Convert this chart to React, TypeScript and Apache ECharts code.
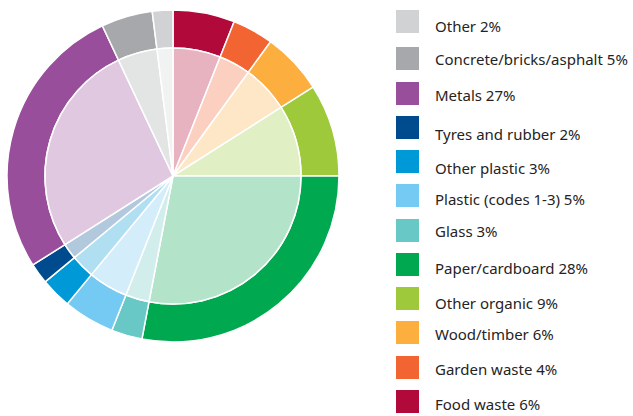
import React, { useEffect, useRef } from "react";
import * as echarts from "echarts";

const categories = [
  "Food waste",
  "Garden waste",
  "Wood/timber",
  "Other organic",
  "Paper/cardboard",
  "Glass",
  "Plastic (codes 1-3)",
  "Other plastic",
  "Tyres and rubber",
  "Metals",
  "Concrete/bricks/asphalt",
  "Other",
];
const percents = [6, 4, 6, 9, 28, 3, 5, 3, 2, 27, 5, 2];
const darkColors = [
  "#b1093a",
  "#f26532",
  "#fcae3f",
  "#9dc93b",
  "#00a94f",
  "#68c8c5",
  "#74caf2",
  "#0099d7",
  "#004a8e",
  "#984e9b",
  "#a7a8ab",
  "#d1d2d4",
];
const lightColors = [
  "#e8b3c0",
  "#fbd0c1",
  "#fee7c7",
  "#e0efc4",
  "#b3e4c9",
  "#d1eeed",
  "#d4edfa",
  "#b1dff2",
  "#b1c8dd",
  "#e1c8e1",
  "#e3e5e5",
  "#f1f2f2",
];

// legend layout (top to bottom): square tops and text centres, in pixels
const legendSquareTops = [10, 47, 82, 116, 150, 184, 219, 253, 287, 321, 356, 390];
const legendTextCentres = [26, 59, 95, 134, 168, 199, 231, 268, 303, 334, 369, 403.5];

export default function App() {
  const ref = useRef<HTMLDivElement>(null);
  useEffect(() => {
    if (!ref.current) return;
    const chart = echarts.init(ref.current, undefined, { renderer: "svg" });
    const outerData = categories.map((name, i) => ({
      name,
      value: percents[i],
      itemStyle: { color: darkColors[i] },
    }));
    const innerData = categories.map((name, i) => ({
      name,
      value: percents[i],
      itemStyle: { color: lightColors[i] },
    }));
    const order = categories.map((_, i) => i).reverse();
    const legendElements: any[] = [];
    order.forEach((ci, row) => {
      legendElements.push({
        type: "rect",
        shape: { x: 396, y: legendSquareTops[row], width: 23, height: 23 },
        style: { fill: darkColors[ci] },
        silent: true,
      });
      legendElements.push({
        type: "text",
        x: 435,
        y: legendTextCentres[row],
        style: {
          text: `${categories[ci]} ${percents[ci]}%`,
          fontFamily: "Noto Sans",
          fontSize: 15,
          fill: "#262324",
          verticalAlign: "middle",
          align: "left",
        },
        silent: true,
      });
    });
    chart.setOption({
      animation: false,
      backgroundColor: "#ffffff",
      graphic: { elements: legendElements },
      series: [
        {
          type: "pie",
          name: "outer",
          center: [173, 176],
          radius: [128, 166],
          startAngle: 90,
          clockwise: true,
          silent: true,
          label: { show: false },
          labelLine: { show: false },
          itemStyle: { borderColor: "#ffffff", borderWidth: 1.5 },
          data: outerData,
        },
        {
          type: "pie",
          name: "inner",
          center: [173, 176],
          radius: [0, 128],
          startAngle: 90,
          clockwise: true,
          silent: true,
          label: { show: false },
          labelLine: { show: false },
          itemStyle: { borderColor: "#ffffff", borderWidth: 1.5 },
          data: innerData,
        },
      ],
    });
    return () => chart.dispose();
  }, []);
  return (
    <div
      ref={ref}
      style={{ position: "fixed", left: 0, top: 0, width: 633, height: 416 }}
    />
  );
}
